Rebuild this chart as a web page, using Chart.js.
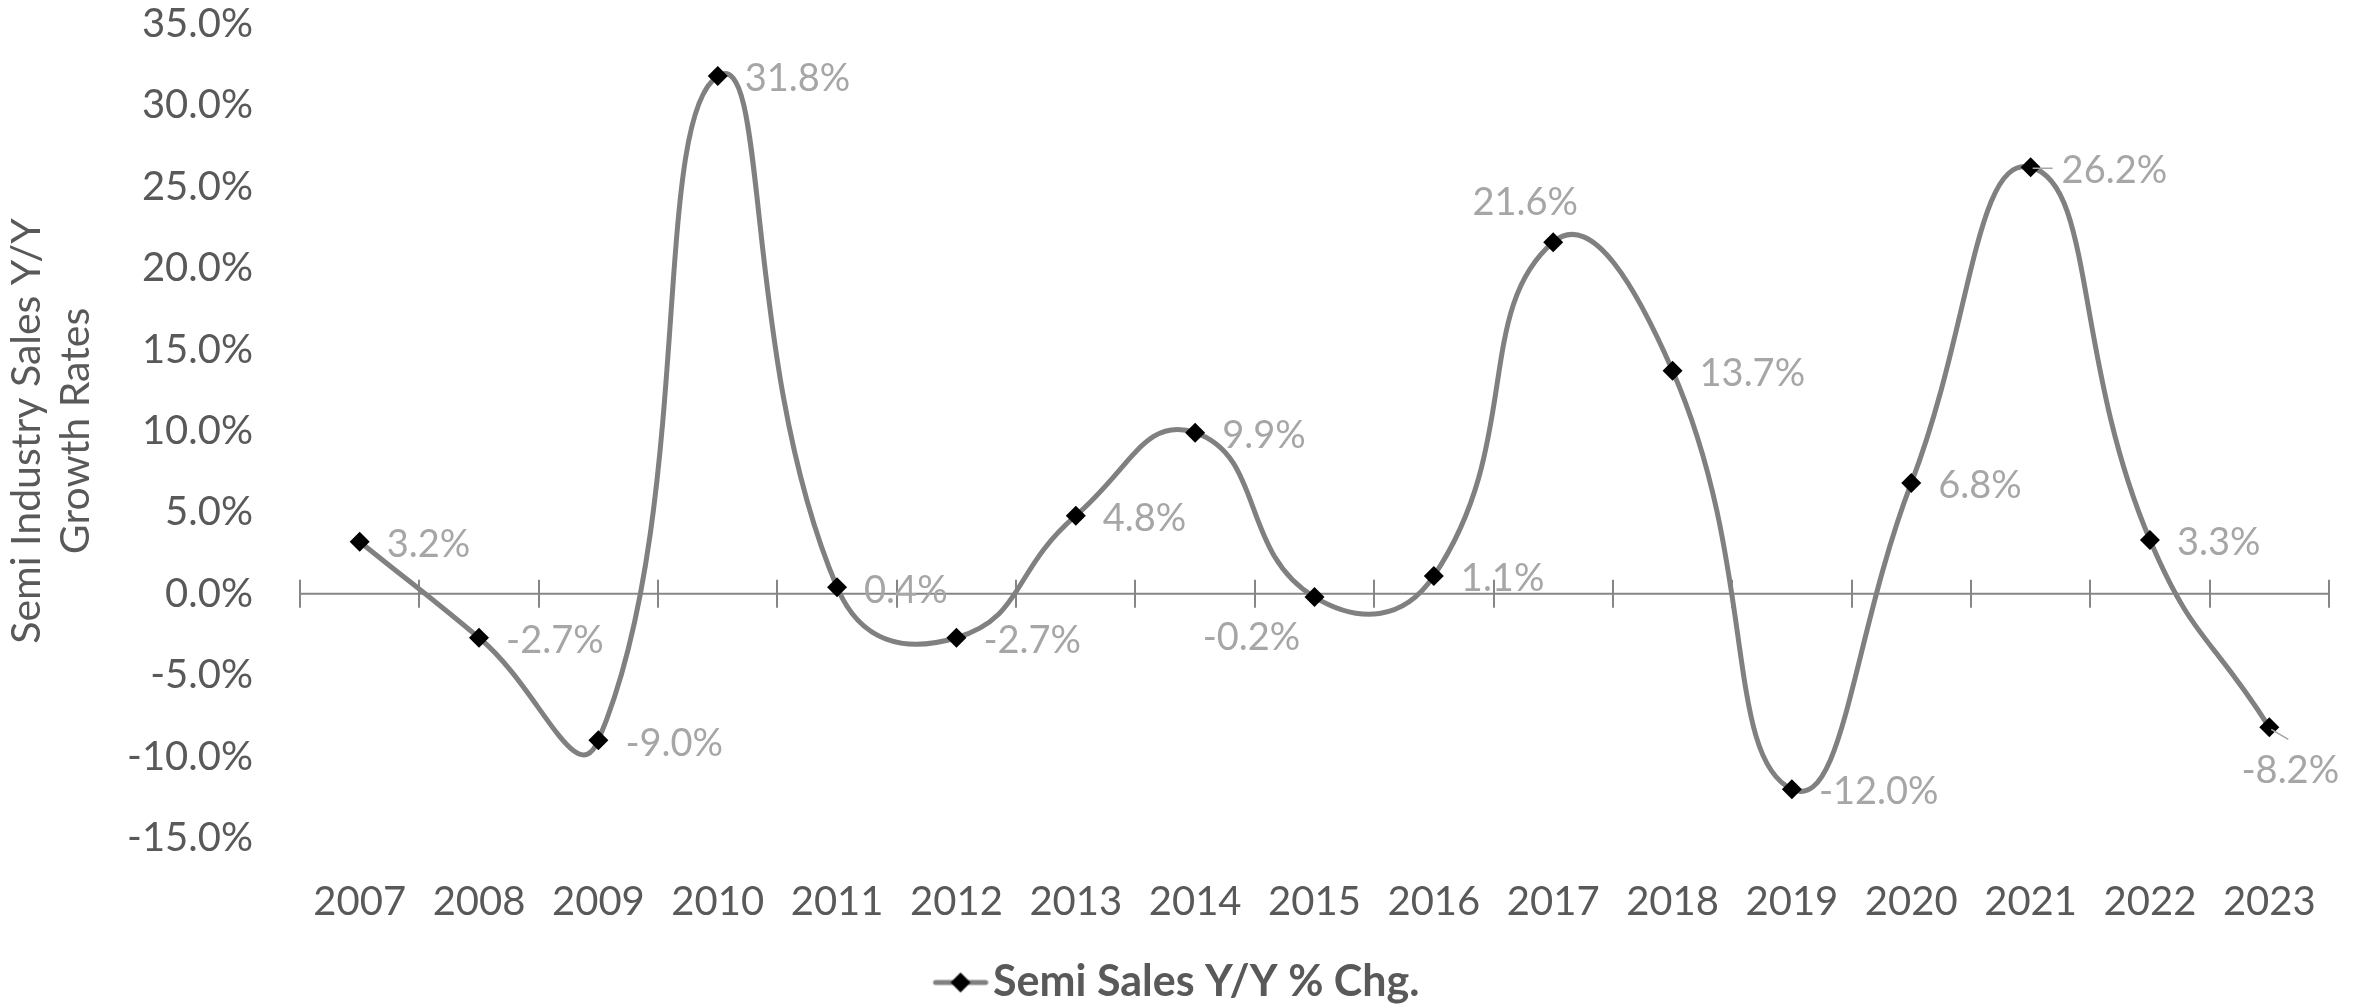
<!DOCTYPE html>
<html>
<head>
<meta charset="utf-8">
<script src="https://cdn.jsdelivr.net/npm/chart.js@4.4.1/dist/chart.umd.min.js"></script>
<style>
  html, body { margin: 0; padding: 0; background: #ffffff; overflow: hidden; }
  #wrap { width: 2356px; height: 1005px; }
</style>
</head>
<body>
<div id="wrap"><canvas id="c" width="2356" height="1005"></canvas></div>
<script>
// ---- Data ----
const years = ['2007','2008','2009','2010','2011','2012','2013','2014','2015','2016','2017','2018','2019','2020','2021','2022','2023'];
const growth = [3.2, -2.7, -9.0, 31.8, 0.4, -2.7, 4.8, 9.9, -0.2, 1.1, 21.6, 13.7, -12.0, 6.8, 26.2, 3.3, -8.2];
const seriesName = 'Semi Sales Y/Y % Chg.';
const yAxisTitle = ['Semi Industry Sales Y/Y', 'Growth Rates'];
const yMin = -15, yMax = 35, yStep = 5;

// ---- Label placement (style, not data) ----
const labelPlacement = ['right','right','right','right','right','right','right','right','belowLeft','right','above','right','right','right','rightLead','right','below'];

const FONT = 'Lato, "Open Sans", "DejaVu Sans", sans-serif';
const TEXT = '#595959';
const LABEL = '#a6a6a6';
const LINE = '#808080';

// legend marker: gray line with black diamond (drawn at the right of a wider transparent canvas)
const marker = document.createElement('canvas');
marker.width = 78; marker.height = 24;
(function () {
  const m = marker.getContext('2d');
  const o = 22;
  m.strokeStyle = LINE; m.lineWidth = 5; m.lineCap = 'round';
  m.beginPath(); m.moveTo(o + 3, 12); m.lineTo(o + 53, 12); m.stroke();
  m.fillStyle = '#000';
  m.beginPath(); m.moveTo(o + 28, 2); m.lineTo(o + 38, 12); m.lineTo(o + 28, 22); m.lineTo(o + 18, 12); m.closePath(); m.fill();
})();

const zeroAxisPlugin = {
  id: 'zeroAxis',
  beforeDatasetsDraw(chart) {
    const {ctx, chartArea, scales: {x, y}} = chart;
    const y0 = y.getPixelForValue(0);
    ctx.save();
    ctx.strokeStyle = '#868686';
    ctx.lineWidth = 2;
    ctx.beginPath();
    ctx.moveTo(chartArea.left, y0);
    ctx.lineTo(chartArea.right, y0);
    for (let i = 0; i <= years.length; i++) {
      const px = Math.round(x.getPixelForValue(i - 0.5));
      ctx.moveTo(px, y0 - 14);
      ctx.lineTo(px, y0 + 14);
    }
    ctx.stroke();
    ctx.restore();
  }
};

const dataLabelPlugin = {
  id: 'dataLabels',
  afterDatasetsDraw(chart) {
    const {ctx} = chart;
    const meta = chart.getDatasetMeta(0);
    const vals = chart.data.datasets[0].data;
    ctx.save();
    ctx.font = '38px ' + FONT;
    ctx.fillStyle = LABEL;
    ctx.strokeStyle = LABEL;
    ctx.lineWidth = 1.5;
    ctx.textBaseline = 'middle';
    meta.data.forEach((pt, i) => {
      const txt = vals[i].toFixed(1) + '%';
      const p = labelPlacement[i];
      let tx, ty, align = 'left';
      if (p === 'right') { tx = pt.x + 27; ty = pt.y + 3; }
      else if (p === 'rightLead') {
        tx = pt.x + 31; ty = pt.y + 3;
        ctx.beginPath(); ctx.moveTo(pt.x + 2, pt.y + 1); ctx.lineTo(pt.x + 22, pt.y + 1); ctx.stroke();
      }
      else if (p === 'above') { tx = pt.x - 28; ty = pt.y - 39; align = 'center'; }
      else if (p === 'belowLeft') { tx = pt.x - 63; ty = pt.y + 41; align = 'center'; }
      else if (p === 'below') {
        tx = pt.x + 21; ty = pt.y + 43; align = 'center';
        ctx.beginPath(); ctx.moveTo(pt.x + 2, pt.y + 2); ctx.lineTo(pt.x + 19, pt.y + 12); ctx.stroke();
      }
      ctx.textAlign = align;
      ctx.fillText(txt, tx, ty);
    });
    ctx.restore();
  }
};

new Chart(document.getElementById('c'), {
  type: 'line',
  data: {
    labels: years,
    datasets: [{
      label: seriesName,
      data: growth,
      borderColor: LINE,
      borderWidth: 5,
      tension: 0.5,
      fill: false,
      clip: false,
      pointStyle: 'rectRot',
      pointRadius: 10,
      pointBorderWidth: 0,
      pointBackgroundColor: '#000000',
      pointBorderColor: '#000000'
    }]
  },
  options: {
    responsive: false,
    devicePixelRatio: 1,
    animation: false,
    layout: { padding: { left: 0, right: 9, top: 1, bottom: -9 } },
    plugins: {
      tooltip: { enabled: false },
      legend: {
        position: 'bottom',
        labels: {
          usePointStyle: true,
          pointStyleWidth: 44,
          padding: 33,
          color: TEXT,
          font: { family: FONT, size: 43, weight: 'bold' },
          generateLabels(chart) {
            const items = Chart.defaults.plugins.legend.labels.generateLabels(chart);
            items.forEach(it => { it.pointStyle = marker; it.fontColor = TEXT; });
            return items;
          }
        }
      }
    },
    scales: {
      x: {
        type: 'category',
        offset: true,
        grid: { display: false, drawTicks: false },
        border: { display: false },
        ticks: {
          color: TEXT,
          padding: 40,
          maxRotation: 0,
          autoSkip: false,
          font: { family: FONT, size: 40 }
        },
        afterFit(scale) { scale.height = 90; }
      },
      y: {
        min: yMin,
        max: yMax,
        grid: { display: false, drawTicks: false },
        border: { display: false },
        ticks: {
          stepSize: yStep,
          color: TEXT,
          padding: 47,
          font: { family: FONT, size: 40 },
          callback: v => Number(v).toFixed(1) + '%'
        },
        title: {
          display: true,
          text: yAxisTitle,
          color: TEXT,
          padding: { top: 2, bottom: 0 },
          font: { family: FONT, size: 41, lineHeight: 1.2 }
        },
        afterFit(scale) { scale.width = 300; scale.paddingTop = 24; scale.paddingBottom = 24; }
      }
    }
  },
  plugins: [zeroAxisPlugin, dataLabelPlugin]
});
</script>
</body>
</html>
